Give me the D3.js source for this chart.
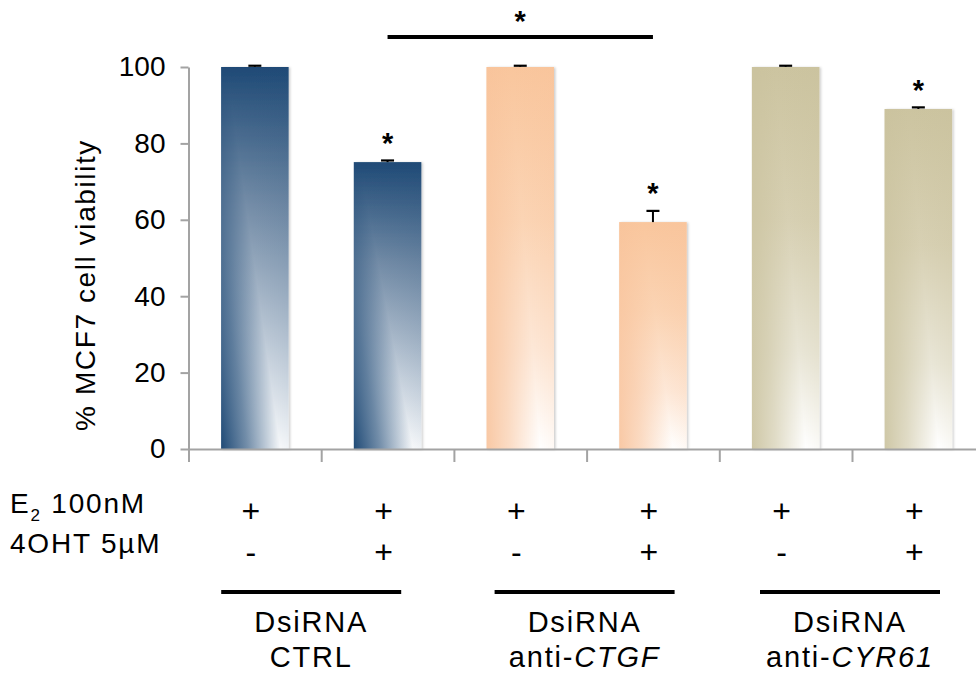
<!DOCTYPE html>
<html>
<head>
<meta charset="utf-8">
<script src="https://cdn.jsdelivr.net/npm/d3@7"></script>
<style>
  html, body { margin: 0; padding: 0; background: #fff; }
  svg { display: block; font-family: "Liberation Sans", Arial, Helvetica, sans-serif; }
</style>
</head>
<body>
<svg id="chart" width="976" height="675"></svg>
<script>
// Conditions, one per bar
const conditions = ["CTRL E2", "CTRL E2+4OHT", "CTGF E2", "CTGF E2+4OHT", "CYR61 E2", "CYR61 E2+4OHT"];
const viability = [100, 75.1, 100, 59.4, 100, 89.0];
const viabilityErr = [0.2, 0.3, 0.2, 2.8, 0.2, 0.3];
const significant = [false, true, false, true, false, true];
const barPalette = ["blue", "blue", "peach", "peach", "khaki", "khaki"];

// Treatment rows under the axis
const e2Marks = ["+", "+", "+", "+", "+", "+"];
const ohtMarks = ["-", "+", "-", "+", "-", "+"];

// Knock-down groups
const groupTop = ["DsiRNA", "DsiRNA", "DsiRNA"];
const groupPrefix = ["", "anti-", "anti-"];
const groupGene = ["CTRL", "CTGF", "CYR61"];
const groupGeneItalic = [false, true, true];

const yTicks = [0, 20, 40, 60, 80, 100];
const yTitle = "% MCF7 cell viability";

// Pairwise comparison drawn above the bars
const bracketFrom = 1, bracketTo = 3;

const svg = d3.select("#chart");
const step = 132.7;
const x0 = 188.5;

const x = d3.scaleBand().domain(d3.range(conditions.length))
  .range([x0, x0 + step * conditions.length]).padding(0);
const xEdge = d3.scaleLinear().domain([0, conditions.length]).range([x0, x0 + step * conditions.length]);
const y = d3.scaleLinear().domain([0, 100]).range([449, 67]);
const barW = 67.5;
const cx = i => x(i) + x.bandwidth() / 2;

// ---- gradients ----
const defs = svg.append("defs");
const palettes = {
  blue:  { stops: [[0, "#1f4a76"], [0.35, "#728ba6"], [0.75, "#c4cfdb"], [1, "#f6f8fa"]],
           edge: "#1f4a76", s0: 0.08, s1: 0.88, edgeOp: 1, midOp: 0.6, farOp: 0.18 },
  peach: { stops: [[0, "#f9c69d"], [0.4, "#fbd4b4"], [0.75, "#fde8d8"], [1, "#ffffff"]],
           edge: "#f8c29a", s0: 0.35, s1: 0.8, edgeOp: 0.9, midOp: 0.55, farOp: 0.3 },
  khaki: { stops: [[0, "#ccc4a0"], [0.4, "#d7d0b3"], [0.75, "#e9e6d7"], [1, "#ffffff"]],
           edge: "#c9c19c", s0: 0.35, s1: 0.8, edgeOp: 0.9, midOp: 0.55, farOp: 0.3 }
};
Object.entries(palettes).forEach(([k, p]) => {
  const v = defs.append("linearGradient").attr("id", "v-" + k)
    .attr("x1", 0).attr("y1", 0).attr("x2", 0).attr("y2", 1);
  p.stops.forEach(([o, c]) => v.append("stop").attr("offset", o).attr("stop-color", c));

  // diagonal sheen: darker on the left of a slanted light streak
  const d = p.s1 - p.s0;
  const kk = (1 - p.s0 + p.s1) / (1 + d * d);
  const streak = p.s1 / (1 - p.s0 + p.s1);
  const g = defs.append("linearGradient").attr("id", "d-" + k)
    .attr("x1", 0).attr("y1", 1).attr("x2", kk).attr("y2", 1 - kk * d);
  g.append("stop").attr("offset", 0).attr("stop-color", p.edge).attr("stop-opacity", p.edgeOp);
  g.append("stop").attr("offset", streak * 0.45).attr("stop-color", p.edge).attr("stop-opacity", p.midOp);
  g.append("stop").attr("offset", streak).attr("stop-color", p.edge).attr("stop-opacity", 0);
  g.append("stop").attr("offset", 1).attr("stop-color", p.edge).attr("stop-opacity", p.farOp);
});
const shadow = defs.append("filter").attr("id", "shadow")
  .attr("x", "-20%").attr("y", "-5%").attr("width", "140%").attr("height", "110%");
shadow.append("feDropShadow").attr("dx", 1.5).attr("dy", 0.5).attr("stdDeviation", 1.2)
  .attr("flood-color", "#000").attr("flood-opacity", 0.2);

// ---- bars ----
const bars = svg.append("g").selectAll("g").data(viability).join("g");
bars.append("rect")
  .attr("x", (d, i) => cx(i) - barW / 2).attr("width", barW)
  .attr("y", d => y(d)).attr("height", d => y(0) - y(d))
  .attr("fill", (d, i) => `url(#v-${barPalette[i]})`)
  .attr("filter", "url(#shadow)");
bars.append("rect")
  .attr("x", (d, i) => cx(i) - barW / 2).attr("width", barW)
  .attr("y", d => y(d)).attr("height", d => y(0) - y(d))
  .attr("fill", (d, i) => `url(#d-${barPalette[i]})`);

// ---- error bars ----
const capW = 13;
bars.append("line")
  .attr("x1", (d, i) => cx(i)).attr("x2", (d, i) => cx(i))
  .attr("y1", d => y(d)).attr("y2", (d, i) => y(d + viabilityErr[i]))
  .attr("stroke", "#000").attr("stroke-width", 2);
bars.append("line")
  .attr("x1", (d, i) => cx(i) - capW / 2).attr("x2", (d, i) => cx(i) + capW / 2)
  .attr("y1", (d, i) => y(d + viabilityErr[i]) - 0.5).attr("y2", (d, i) => y(d + viabilityErr[i]) - 0.5)
  .attr("stroke", "#000").attr("stroke-width", 2.2);

// ---- significance stars ----
viability.forEach((v, i) => {
  if (!significant[i]) return;
  svg.append("text")
    .attr("x", cx(i))
    .attr("y", y(v + viabilityErr[i]) - 24 + 16)
    .attr("text-anchor", "middle").attr("font-size", 29).attr("font-weight", "bold")
    .text("*");
});

// comparison bracket
svg.append("line")
  .attr("x1", cx(bracketFrom)).attr("x2", cx(bracketTo))
  .attr("y1", 37).attr("y2", 37).attr("stroke", "#000").attr("stroke-width", 4);
svg.append("text")
  .attr("x", (cx(bracketFrom) + cx(bracketTo)) / 2).attr("y", 31)
  .attr("text-anchor", "middle").attr("font-size", 29).attr("font-weight", "bold").text("*");

// ---- axes ----
const axisGrey = "#a3a3a3";
const yAxis = svg.append("g").attr("transform", `translate(${x0},0)`)
  .call(d3.axisLeft(y).tickValues(yTicks).tickSize(8).tickSizeOuter(0).tickPadding(15));
yAxis.select(".domain").attr("stroke", axisGrey).attr("stroke-width", 2);
yAxis.selectAll(".tick line").attr("stroke", axisGrey).attr("stroke-width", 2);
yAxis.selectAll(".tick text").attr("font-size", 28).attr("fill", "#000")
  .attr("font-family", "Liberation Sans, Arial, sans-serif");

const xAxis = svg.append("g").attr("transform", `translate(0,${y(0)})`)
  .call(d3.axisBottom(xEdge).tickValues(d3.range(conditions.length + 1)).tickSize(13)
    .tickSizeOuter(0).tickFormat(""));
xAxis.select(".domain").attr("stroke", axisGrey).attr("stroke-width", 2);
xAxis.selectAll(".tick line").attr("stroke", axisGrey).attr("stroke-width", 2);

svg.append("text")
  .attr("transform", "translate(95,285) rotate(-90)")
  .attr("text-anchor", "middle").attr("font-size", 28).attr("letter-spacing", 1.6)
  .text(yTitle);

// ---- treatment rows ----
const row1 = svg.append("text").attr("x", 10).attr("y", 513).attr("font-size", 28).attr("letter-spacing", 1.8);
row1.append("tspan").text("E");
row1.append("tspan").attr("font-size", 17).attr("dy", 8).text("2");
row1.append("tspan").attr("dy", -8).text(" 100nM");
svg.append("text").attr("x", 10).attr("y", 553).attr("font-size", 28).attr("letter-spacing", 1.8)
  .text("4OHT 5\u00b5M");

svg.append("g").selectAll("text").data(e2Marks).join("text")
  .attr("x", (d, i) => cx(i) - 4).attr("y", 522)
  .attr("text-anchor", "middle").attr("font-size", 32).text(d => d);
svg.append("g").selectAll("text").data(ohtMarks).join("text")
  .attr("x", (d, i) => cx(i) - 4).attr("y", 563)
  .attr("text-anchor", "middle").attr("font-size", 32).text(d => d);

// ---- group labels ----
const groupShift = [-10, -2, -2];
const groupCenter = g => (cx(2 * g) + cx(2 * g + 1)) / 2 + groupShift[g];
const grp = svg.append("g").selectAll("g").data(groupTop).join("g");
grp.append("line")
  .attr("x1", (d, g) => groupCenter(g) - 90).attr("x2", (d, g) => groupCenter(g) + 90)
  .attr("y1", 592).attr("y2", 592).attr("stroke", "#000").attr("stroke-width", 4);
grp.append("text")
  .attr("x", (d, g) => groupCenter(g)).attr("y", 632)
  .attr("text-anchor", "middle").attr("font-size", 29).attr("letter-spacing", 1.8)
  .text(d => d);
const second = grp.append("text")
  .attr("x", (d, g) => groupCenter(g)).attr("y", 667)
  .attr("text-anchor", "middle").attr("font-size", 29).attr("letter-spacing", 1.8);
second.append("tspan").text((d, g) => groupPrefix[g]);
second.append("tspan").attr("font-style", (d, g) => groupGeneItalic[g] ? "italic" : "normal")
  .text((d, g) => groupGene[g]);
</script>
</body>
</html>
